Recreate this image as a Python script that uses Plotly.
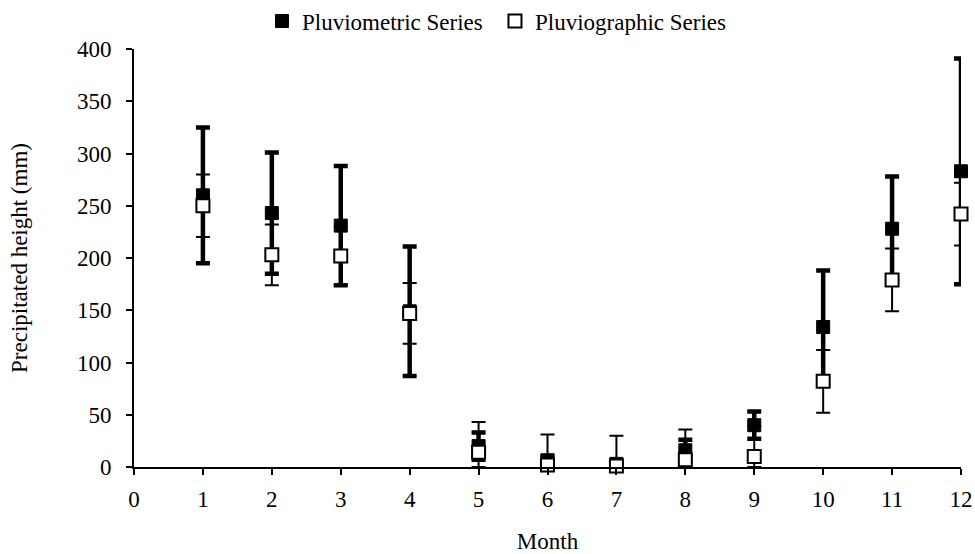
import plotly.graph_objects as go

months = [1, 2, 3, 4, 5, 6, 7, 8, 9, 10, 11, 12]
pluviometric = [260, 243, 231, 149, 20, 6, 3, 16, 40, 134, 228, 283]
pluviometric_err = [65, 58, 57, 62, 13, 5, 3, 10, 13, 54, 50, 108]
pluviographic = [250, 203, 202, 147, 14, 2, 1, 7, 10, 82, 179, 242]
pluviographic_err = [30, 29, 28, 29, 29, 29, 29, 29, 29, 30, 30, 30]

x_ticks = list(range(0, 13))
y_ticks = list(range(0, 401, 50))

FONT = "Liberation Serif"
FS = 23

def minus(vals, errs):
    # error bars are clipped at the axis floor (0)
    return [min(e, v) for v, e in zip(vals, errs)]

fig = go.Figure()
fig.add_trace(go.Scatter(
    x=months, y=pluviometric, mode="markers", name="Pluviometric Series",
    marker=dict(symbol="square", size=13, color="black", line=dict(color="black", width=1)),
    error_y=dict(type="data", symmetric=False, array=pluviometric_err,
                 arrayminus=minus(pluviometric, pluviometric_err),
                 color="black", thickness=4.5, width=7),
    cliponaxis=False,
))
fig.add_trace(go.Scatter(
    x=months, y=pluviographic, mode="markers", name="Pluviographic Series",
    marker=dict(symbol="square", size=13, color="white", line=dict(color="black", width=2)),
    error_y=dict(type="data", symmetric=False, array=pluviographic_err,
                 arrayminus=minus(pluviographic, pluviographic_err),
                 color="black", thickness=2, width=7),
    cliponaxis=False,
))

fig.update_layout(
    width=975, height=554,
    margin=dict(l=134, r=14, t=49, b=87, autoexpand=False),
    paper_bgcolor="white", plot_bgcolor="white",
    font=dict(family=FONT, size=FS, color="black"),
    showlegend=True,
    legend=dict(orientation="h", x=0.2687, xref="container", y=0.962, yref="container",
                xanchor="left", yanchor="middle",
                font=dict(family=FONT, size=FS, color="black"),
                itemwidth=30, entrywidth=188, tracegroupgap=0, bgcolor="rgba(0,0,0,0)"),
    xaxis=dict(range=[0, 12], tickvals=x_ticks, ticktext=[str(v) for v in x_ticks],
               showgrid=False, zeroline=False, showline=True, linecolor="black", linewidth=2,
               ticks="outside", ticklen=6, tickwidth=2, tickcolor="black",
               ticklabelstandoff=4,
               title=dict(text="Month", standoff=27, font=dict(size=FS)),
               tickfont=dict(size=FS)),
    yaxis=dict(range=[0, 400], tickvals=y_ticks, ticktext=[str(v) for v in y_ticks],
               showgrid=False, zeroline=False, showline=True, linecolor="black", linewidth=2,
               ticks="outside", ticklen=6, tickwidth=2, tickcolor="black",
               ticklabelstandoff=10,
               title=dict(text="Precipitated height (mm)", standoff=43, font=dict(size=FS)),
               tickfont=dict(size=FS)),
)

fig.write_html("out.html")
